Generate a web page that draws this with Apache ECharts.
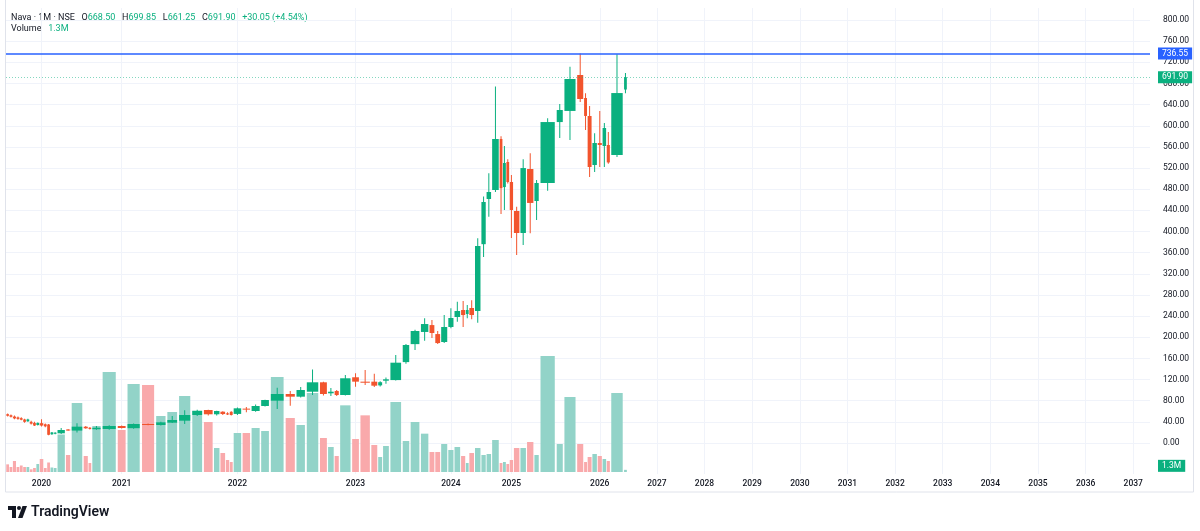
<!DOCTYPE html>
<html>
<head>
<meta charset="utf-8">
<script src="https://cdn.jsdelivr.net/npm/echarts@6/dist/echarts.min.js"></script>
<style>
html, body { margin: 0; padding: 0; background: #fff; }
#chart { width: 1200px; height: 531px; }
</style>
</head>
<body>
<div id="chart"></div>
<script>
// monthly bars, Nava (NSE)
var months = [
    '2019-03','2019-04','2019-05','2019-06','2019-07','2019-08','2019-09','2019-10','2019-11','2019-12',
    '2020-01','2020-02','2020-03','2020-04','2020-05','2020-06','2020-07','2020-08','2020-09','2020-10','2020-11','2020-12',
    '2021-01','2021-02','2021-03','2021-04','2021-05','2021-06','2021-07','2021-08','2021-09','2021-10','2021-11','2021-12',
    '2022-01','2022-02','2022-03','2022-04','2022-05','2022-06','2022-07','2022-08','2022-09','2022-10','2022-11','2022-12',
    '2023-01','2023-02','2023-03','2023-04','2023-05','2023-06','2023-07','2023-08','2023-09','2023-10','2023-11','2023-12',
    '2024-01','2024-02','2024-03','2024-04','2024-05','2024-06','2024-07','2024-08','2024-09','2024-10','2024-11','2024-12',
    '2025-01','2025-02','2025-03','2025-04','2025-05','2025-06','2025-07','2025-08','2025-09','2025-10','2025-11','2025-12',
    '2026-01','2026-02','2026-03','2026-04','2026-05'
];
var openP = [
    54.5, 52.5, 50, 48.5, 47, 44.5, 41, 40, 38, 34,
    37.5, 35.5, 35, 16.5, 17.5, 18.3, 25.5, 23.5, 30.8, 29, 26, 26.5,
    32.1, 28, 35.9, 34, 38.4, 42.2, 53, 62.4, 54.3, 59.2, 56, 59,
    55, 65, 60.5, 70, 80, 92.7, 87.6, 97, 114.8, 94, 98.3, 90.8,
    124.3, 116, 116, 109, 117.8, 119, 153, 187, 210, 223, 206, 191,
    219.4, 238.3, 251.5, 244, 255.3, 249.6, 376, 461.5, 478.5, 575, 484, 531.5,
    493.6, 438.8, 397.2, 518.2, 457.7, 491.7, 607, 628, 696, 652.5, 618.5, 525.8,
    567.4, 561.7, 563.6, 544.7, 668.5
];
var highP = [
    56, 54, 52, 50, 48.5, 46, 46, 42, 40, 39,
    45, 37, 36, 21, 20.5, 28.4, 26.5, 37.2, 32, 30, 32, 33.5,
    33, 37, 37, 40, 51, 62, 63, 63, 61, 60, 58, 60,
    67, 68, 73, 82, 104.6, 98.3, 106, 139, 116, 104, 100, 128.6,
    131.8, 138, 131, 117, 124, 166.4, 187, 214, 236, 232.6, 212, 242,
    254.8, 267, 268.6, 261, 270, 387, 466, 510, 674, 580, 561.7, 536.6,
    507, 447, 536.6, 548, 497.4, 614, 641, 711.7, 736.55, 661.4, 637.4, 586,
    628, 605, 588, 735, 699.85
];
var lowP = [
    50, 48, 45, 44, 43, 38.5, 40, 35, 32, 33,
    31, 30, 14.5, 15.5, 16.5, 17, 23, 20, 27, 25.5, 25, 25,
    27.5, 27, 33.5, 33, 38, 36, 51, 52, 52, 53, 53, 52,
    53, 58, 59, 69, 64.3, 70.5, 86, 90.8, 90, 89, 89, 90,
    106.5, 109.7, 106, 107, 112, 118, 150, 176, 193.5, 198.6, 187, 189,
    217, 229.4, 219.4, 236, 234, 227.5, 352, 428, 474.7, 433, 440.7, 491,
    387.7, 355.6, 374.5, 396.6, 421.7, 477, 577, 573, 645, 592, 503, 512.5,
    522, 522, 528, 541, 661.25
];
var closeP = [
    51.5, 49.5, 46.5, 45.5, 44, 40, 44.5, 36.5, 33, 38,
    33, 31.5, 15.5, 20, 19.5, 24.6, 24.2, 30.9, 27.8, 26.5, 28.9, 32.1,
    28.4, 35.9, 34, 39.1, 43.5, 53, 61, 54.3, 60.5, 54.8, 54, 53,
    65.6, 64, 70, 81.3, 92.7, 87.6, 100.2, 114.8, 92.7, 97, 90.8, 122.4,
    116, 114, 108.4, 115, 120.5, 151.9, 185.3, 211.8, 225, 208, 189, 219.4,
    236.4, 249.6, 242, 251.5, 242, 372.6, 455.8, 474.7, 575, 482, 529.6, 493.6,
    440.7, 397.2, 520, 454, 491.7, 607, 629.8, 688.4, 650.6, 618.5, 522, 567.4,
    563.6, 595.8, 530.6, 661.85, 691.9
];
// volume, millions of shares
var volumeM = [
    4.6, 3, 6.6, 3, 3.9, 3, 3, 1.6, 2.4, 4.8,
    7.8, 2.4, 5.7, 2.7, 2.4, 22.5, 10.2, 41.4, 9.6, 5.4, 27.6, 60,
    25.2, 52.8, 52.2, 33.6, 36, 45.6, 36.6, 30, 14.4, 11.4, 7.2, 6,
    23.4, 23.4, 26.4, 24.6, 57, 32.4, 28.2, 47.4, 20.4, 15, 9.6, 40,
    19.8, 34, 16.2, 9, 15.6, 42, 18.6, 30, 23, 12, 12, 16.8,
    13.2, 15, 9.6, 5.4, 11.4, 14.4, 10.2, 10.8, 19.2, 5.4, 6, 4.8,
    7.2, 14.4, 14.4, 18, 10.2, 69.6, 16.8, 45, 16.8, 6, 9, 10.8,
    9.6, 7.8, 6.6, 47.4, 1.3
];
var priceTicks = [0, 40, 80, 120, 160, 200, 240, 280, 320, 360, 400, 440, 480, 520, 560, 600, 640, 680, 720, 760, 800];
var athLevel = 736.55;
var lastAxisYear = 2037;

var UP = '#0ab07f', DOWN = '#f2542d';
var UP_VOL = '#92d3c8', DOWN_VOL = '#f9a9ab';
var FONT = 'Roboto, "Noto Sans", sans-serif';
var INK = '#131722';

// volume candles: slot width grows with volume
var FUTURE_SLOT = 3.97;
function slotOf(v) {
    return Math.max(3.3, 2.3 * Math.sqrt(v) - 2.2);
}

var candles = [], vols = [], jan = [];
var acc = 0;
for (var i = 0; i < months.length; i++) {
    var w = slotOf(volumeM[i]);
    candles.push([acc, acc + w, openP[i], closeP[i], lowP[i], highP[i]]);
    vols.push([acc, acc + w, volumeM[i], closeP[i] >= openP[i] ? 1 : 0]);
    if (months[i].slice(5) === '01') {
        jan.push({x: acc + w / 2, label: months[i].slice(0, 4)});
    }
    acc += w;
}
var lastY = +months[months.length - 1].slice(0, 4);
var lastM = +months[months.length - 1].slice(5);
for (var y = lastY + 1; y <= lastAxisYear; y++) {
    var k = (y - lastY) * 12 - lastM;
    jan.push({x: acc + k * FUTURE_SLOT + FUTURE_SLOT / 2, label: String(y)});
}
var janVals = jan.map(function (j) { return j.x; });
function yearLabel(v) {
    for (var j = 0; j < jan.length; j++) {
        if (Math.abs(jan[j].x - v) < 0.01) return jan[j].label;
    }
    return '';
}

var n = months.length;
var lastO = openP[n - 1], lastH = highP[n - 1], lastL = lowP[n - 1], lastC = closeP[n - 1];
var chg = lastC - closeP[n - 2];
var pct = chg / closeP[n - 2] * 100;

function renderCandle(params, api) {
    var x0 = api.value(0), x1 = api.value(1);
    var o = api.value(2), c = api.value(3), lo = api.value(4), hi = api.value(5);
    var pO = api.coord([x0, o]), pC = api.coord([x1, c]);
    var slot = pC[0] - pO[0];
    var bw = Math.max(1, slot * 0.84);
    var cx = (pO[0] + pC[0]) / 2;
    var yH = api.coord([x0, hi])[1], yL = api.coord([x0, lo])[1];
    var col = c >= o ? UP : DOWN;
    var top = Math.min(pO[1], pC[1]);
    var h = Math.max(1, Math.abs(pO[1] - pC[1]));
    return {
        type: 'group',
        children: [
            {type: 'rect', shape: {x: cx - 0.5, y: yH, width: 1, height: yL - yH}, style: {fill: col}},
            {type: 'rect', shape: {x: cx - bw / 2, y: top, width: bw, height: h}, style: {fill: col}}
        ]
    };
}

function renderVolume(params, api) {
    var x0 = api.value(0), x1 = api.value(1), v = api.value(2);
    var pB = api.coord([x0, 0]), pT = api.coord([x1, v]);
    var slot = pT[0] - pB[0];
    var bw = Math.max(1, slot * 0.84);
    var cx = (pB[0] + pT[0]) / 2;
    return {
        type: 'rect',
        shape: {x: cx - bw / 2, y: pT[1], width: bw, height: pB[1] - pT[1]},
        style: {fill: api.value(3) ? UP_VOL : DOWN_VOL}
    };
}

function priceTag(text, bg) {
    return {
        show: true, position: 'end', distance: 8,
        formatter: text,
        backgroundColor: bg, color: '#fff',
        padding: [2, 4, 1, 4], fontSize: 8.5, fontFamily: FONT
    };
}

var chart = echarts.init(document.getElementById('chart'));
var option = {
    animation: false,
    backgroundColor: '#fff',
    textStyle: {fontFamily: FONT},
    grid: [
        {left: 6, right: 50, top: 8, bottom: 57},
        {left: 6, right: 50, top: 300, bottom: 59}
    ],
    xAxis: [
        {
            type: 'value', gridIndex: 0, min: 0, max: 1144,
            axisLine: {show: false},
            axisTick: {show: false, customValues: janVals},
            axisLabel: {show: false, customValues: janVals},
            splitLine: {show: true, lineStyle: {color: '#f0f3fa', width: 1}}
        },
        {
            type: 'value', gridIndex: 1, min: 0, max: 1144,
            axisLine: {show: false},
            axisTick: {show: false, customValues: janVals},
            axisLabel: {
                show: true, customValues: janVals, formatter: yearLabel,
                color: INK, fontSize: 8.5, fontWeight: 500, margin: 7, fontFamily: FONT
            },
            splitLine: {show: false}
        }
    ],
    yAxis: [
        {
            type: 'value', gridIndex: 0, position: 'right',
            min: -58.63, max: 822.7,
            axisLine: {show: false},
            axisTick: {show: false, customValues: priceTicks},
            axisLabel: {
                customValues: priceTicks,
                formatter: function (v) { return v.toFixed(2); },
                color: INK, fontSize: 8.5, margin: 13, fontFamily: FONT
            },
            splitLine: {show: true, lineStyle: {color: '#f0f3fa', width: 1}}
        },
        {
            type: 'value', gridIndex: 1, min: 0, max: 103.2, show: false
        }
    ],
    series: [
        {
            name: 'Volume', type: 'custom', xAxisIndex: 1, yAxisIndex: 1,
            renderItem: renderVolume, data: vols, clip: true, z: 1,
            encode: {x: [0, 1], y: 2}
        },
        {
            name: 'Nava', type: 'custom', xAxisIndex: 0, yAxisIndex: 0,
            renderItem: renderCandle, data: candles, clip: true, z: 3,
            encode: {x: [0, 1], y: [2, 3, 4, 5]}
        },
        {
            type: 'line', xAxisIndex: 0, yAxisIndex: 0, z: 10,
            data: [[candles[n - 1][0], lastC]], showSymbol: false, symbol: 'none',
            lineStyle: {width: 0},
            markLine: {
                symbol: 'none', silent: true, animation: false,
                data: [
                    {
                        yAxis: athLevel,
                        lineStyle: {color: '#2962ff', width: 1.5, type: 'solid'},
                        label: priceTag(athLevel.toFixed(2), '#2962ff')
                    },
                    {
                        yAxis: lastC,
                        lineStyle: {color: 'rgba(10,176,127,0.5)', width: 1, type: [1, 2]},
                        label: priceTag(lastC.toFixed(2), UP)
                    }
                ]
            }
        },
        {
            type: 'line', xAxisIndex: 1, yAxisIndex: 1, z: 10,
            data: [[vols[n - 1][0], volumeM[n - 1]]], showSymbol: false, symbol: 'none',
            lineStyle: {width: 0},
            markLine: {
                symbol: 'none', silent: true, animation: false,
                data: [{
                    yAxis: volumeM[n - 1],
                    lineStyle: {color: 'rgba(0,0,0,0)', width: 1},
                    label: Object.assign(priceTag(volumeM[n - 1].toFixed(1) + 'M', UP), {offset: [0, -4]})
                }]
            }
        }
    ],
    graphic: [
        {
            type: 'text', left: 11, top: 12,
            style: {
                text: '{n|Nava · 1M · NSE}  {k|O}{v|' + lastO.toFixed(2) + '}  {k|H}{v|' + lastH.toFixed(2) +
                    '}  {k|L}{v|' + lastL.toFixed(2) + '}  {k|C}{v|' + lastC.toFixed(2) + '}  {v|' +
                    (chg >= 0 ? '+' : '') + chg.toFixed(2) + ' (' + (pct >= 0 ? '+' : '') + pct.toFixed(2) + '%)}',
                rich: {
                    n: {fontSize: 9, fill: INK, fontFamily: FONT},
                    k: {fontSize: 9, fill: INK, fontFamily: FONT},
                    v: {fontSize: 9, fill: UP, fontFamily: FONT}
                }
            }
        },
        {
            type: 'text', left: 11, top: 23,
            style: {
                text: '{n|Volume}  {v|' + volumeM[n - 1].toFixed(1) + 'M}',
                rich: {
                    n: {fontSize: 9, fill: INK, fontFamily: FONT},
                    v: {fontSize: 9, fill: UP, fontFamily: FONT}
                }
            }
        },
        {
            type: 'rect', silent: true, z: -1,
            shape: {x: 5.5, y: -2, width: 1188, height: 494},
            style: {fill: 'none', stroke: '#e0e3eb', lineWidth: 1}
        },
        {
            type: 'group', left: 8, top: 505,
            children: [
                {type: 'rect', shape: {x: 0, y: 0, width: 8, height: 4}, style: {fill: INK}},
                {type: 'rect', shape: {x: 4, y: 0, width: 4, height: 12}, style: {fill: INK}},
                {type: 'circle', shape: {cx: 11, cy: 2, r: 2}, style: {fill: INK}},
                {type: 'polygon', shape: {points: [[14.5, 0], [19, 0], [14.5, 12], [10, 12]]}, style: {fill: INK}},
                {
                    type: 'text', x: 23, y: 6,
                    style: {
                        text: 'TradingView', fontSize: 14, fontWeight: 600,
                        fill: INK, fontFamily: FONT, verticalAlign: 'middle'
                    }
                }
            ]
        }
    ]
};
chart.setOption(option);
window.onresize = function () { chart.resize(); };
</script>
</body>
</html>
